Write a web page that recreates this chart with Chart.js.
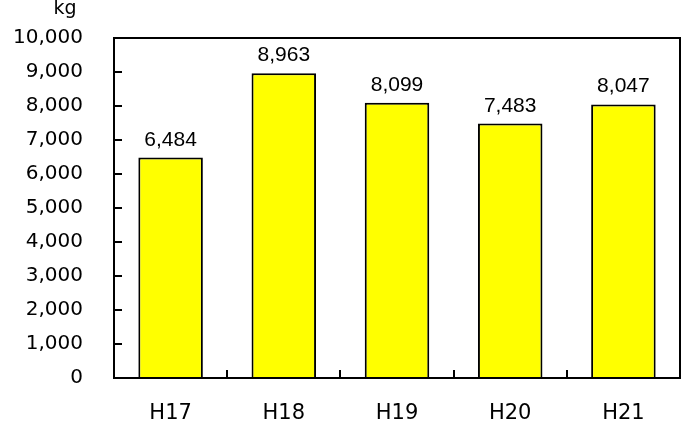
<!DOCTYPE html>
<html>
<head>
<meta charset="utf-8">
<script src="https://cdn.jsdelivr.net/npm/chart.js@4/dist/chart.umd.min.js"></script>
<style>
  html, body { margin: 0; padding: 0; background: #fff; }
  #wrap { width: 687px; height: 425px; }
</style>
</head>
<body>
<div id="wrap"><canvas id="myChart" width="687" height="425"></canvas></div>
<script>
var years = ['H17', 'H18', 'H19', 'H20', 'H21'];
var amounts = [6484, 8963, 8099, 7483, 8047];
var yTicks = [0, 1000, 2000, 3000, 4000, 5000, 6000, 7000, 8000, 9000, 10000];
var unitLabel = 'kg';

var fontFamily = '"DejaVu Sans", sans-serif';
var labelFont = '"Liberation Sans", Arial, sans-serif';

function fmt(v) {
    return v.toString().replace(/\B(?=(\d{3})+(?!\d))/g, ',');
}

// frame, inward ticks, value labels and unit
var extras = {
    id: 'extras',
    afterDatasetsDraw: function (chart) {
        var ctx = chart.ctx;
        var a = chart.chartArea;
        var x = chart.scales.x, y = chart.scales.y;
        ctx.save();
        ctx.strokeStyle = '#000';
        ctx.lineWidth = 2;
        ctx.strokeRect(a.left, a.top, a.right - a.left, a.bottom - a.top);

        ctx.beginPath();
        yTicks.forEach(function (t) {
            var py = Math.round(y.getPixelForValue(t));
            ctx.moveTo(a.left, py);
            ctx.lineTo(a.left + 8, py);
        });
        for (var i = 1; i < years.length; i++) {
            var px = Math.round((x.getPixelForValue(i - 1) + x.getPixelForValue(i)) / 2);
            ctx.moveTo(px, a.bottom);
            ctx.lineTo(px, a.bottom - 8);
        }
        ctx.stroke();

        ctx.fillStyle = '#000';
        ctx.font = '21px ' + labelFont;
        ctx.textAlign = 'center';
        ctx.textBaseline = 'alphabetic';
        chart.getDatasetMeta(0).data.forEach(function (bar, i) {
            ctx.fillText(fmt(amounts[i]), bar.x, bar.y - 12);
        });

        ctx.font = '19px ' + fontFamily;
        ctx.textBaseline = 'middle';
        ctx.fillText(unitLabel, 65, 9);
        ctx.restore();
    }
};

var ctx = document.getElementById('myChart').getContext('2d');
var chart = new Chart(ctx, {
    type: 'bar',
    data: {
        labels: years,
        datasets: [{
            data: amounts,
            backgroundColor: '#ffff00',
            borderColor: '#000',
            borderWidth: 2,
            barPercentage: 0.57,
            categoryPercentage: 1
        }]
    },
    options: {
        responsive: false,
        animation: false,
        layout: { padding: { top: 38, right: 7, left: 0, bottom: 0 } },
        plugins: { legend: { display: false }, tooltip: { enabled: false } },
        scales: {
            x: {
                grid: { display: false, drawTicks: false },
                border: { display: false },
                ticks: { color: '#000', font: { family: fontFamily, size: 21 }, padding: 23 },
                afterFit: function (s) {
                    s.height = 47;
                    s.paddingLeft = 0;
                    s.paddingRight = 0;
                }
            },
            y: {
                min: 0, max: 10000,
                grid: { display: false, drawTicks: false },
                border: { display: false },
                afterBuildTicks: function (s) {
                    s.ticks = yTicks.map(function (v) { return { value: v }; });
                },
                ticks: {
                    color: '#000',
                    font: { family: fontFamily, size: 20 },
                    padding: 31,
                    callback: function (v) { return fmt(v); }
                },
                afterFit: function (s) {
                    s.width = 114;
                    s.paddingTop = 0;
                    s.paddingBottom = 0;
                }
            }
        }
    },
    plugins: [extras]
});
</script>
</body>
</html>
